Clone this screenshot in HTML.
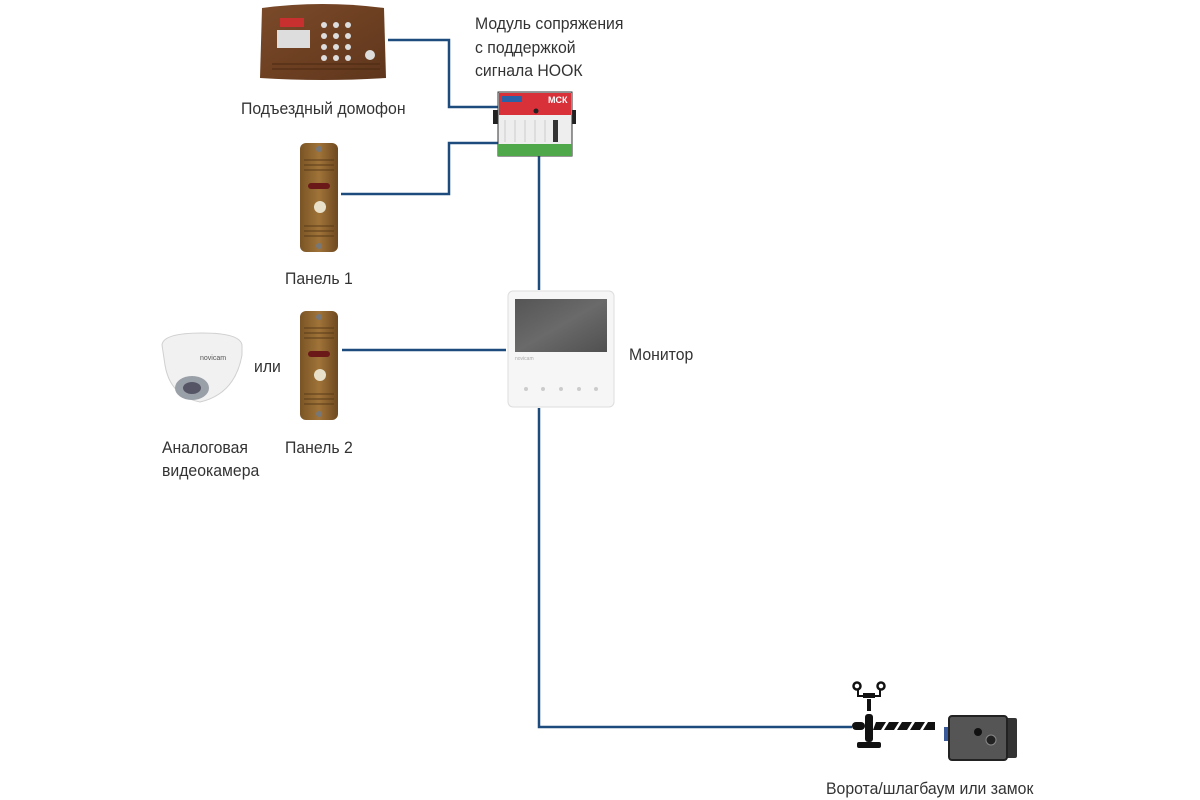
<!DOCTYPE html>
<html><head><meta charset="utf-8"><style>
html,body{margin:0;padding:0;background:#fff;width:1200px;height:800px;overflow:hidden}
svg{display:block}
text{font-family:"Liberation Sans",sans-serif;font-size:17px;fill:#333}
</style></head><body>
<svg width="1200" height="800" viewBox="0 0 1200 800">
<defs>
<linearGradient id="br" x1="0" y1="0" x2="1" y2="1"><stop offset="0" stop-color="#7a4a2a"/><stop offset="0.5" stop-color="#6e4022"/><stop offset="1" stop-color="#5e361c"/></linearGradient>
<linearGradient id="pn" x1="0" y1="0" x2="1" y2="0"><stop offset="0" stop-color="#7a5426"/><stop offset="0.5" stop-color="#a07438"/><stop offset="1" stop-color="#6e4820"/></linearGradient>
<linearGradient id="scr" x1="0" y1="0" x2="1" y2="1"><stop offset="0" stop-color="#555"/><stop offset="0.5" stop-color="#6a6a6a"/><stop offset="1" stop-color="#505050"/></linearGradient>
</defs>
<g fill="none" stroke="#1d4b7d" stroke-width="2.5">
<polyline points="388,40 449,40 449,107 500,107"/>
<polyline points="341,194 449,194 449,143 500,143"/>
<line x1="539" y1="156" x2="539" y2="290"/>
<line x1="342" y1="350" x2="506" y2="350"/>
<polyline points="539,408 539,727 852,727"/>
</g>
<path d="M262,8 Q322,0 384,8 L386,78 Q322,82 260,78 Z" fill="url(#br)"/>
<rect x="280" y="18" width="24" height="9" fill="#c83030"/>
<rect x="277" y="30" width="33" height="18" fill="#ddd"/>
<g fill="#ddd"><circle cx="324" cy="25" r="3"/><circle cx="336" cy="25" r="3"/><circle cx="348" cy="25" r="3"/><circle cx="324" cy="36" r="3"/><circle cx="336" cy="36" r="3"/><circle cx="348" cy="36" r="3"/><circle cx="324" cy="47" r="3"/><circle cx="336" cy="47" r="3"/><circle cx="348" cy="47" r="3"/><circle cx="324" cy="58" r="3"/><circle cx="336" cy="58" r="3"/><circle cx="348" cy="58" r="3"/><circle cx="370" cy="55" r="5"/></g>
<g stroke="#4a2810"><line x1="272" y1="64" x2="380" y2="64"/><line x1="272" y1="69" x2="380" y2="69"/></g>
<text x="241" y="114">Подъездный домофон</text>
<rect x="493" y="110" width="6" height="14" fill="#222"/><rect x="570" y="110" width="6" height="14" fill="#222"/>
<rect x="498" y="92" width="74" height="64" fill="#eee" stroke="#333"/>
<rect x="499" y="93" width="72" height="22" fill="#d8313a"/>
<rect x="502" y="96" width="20" height="6" fill="#2a62a8"/>
<text x="548" y="103" style="font-size:9px;fill:#fff;font-weight:bold">МСК</text>
<circle cx="536" cy="111" r="2.5" fill="#222"/>
<rect x="498" y="144" width="74" height="12" fill="#4fa84a"/>
<g stroke="#ccc"><line x1="505" y1="120" x2="505" y2="142"/><line x1="515" y1="120" x2="515" y2="142"/><line x1="525" y1="120" x2="525" y2="142"/><line x1="535" y1="120" x2="535" y2="142"/><line x1="545" y1="120" x2="545" y2="142"/><line x1="555" y1="120" x2="555" y2="142"/></g>
<rect x="553" y="120" width="5" height="22" fill="#333"/>
<text x="475" y="29">Модуль сопряжения</text>
<text x="475" y="53">с поддержкой</text>
<text x="475" y="76">сигнала НООК</text>
<g>
<rect x="300" y="143" width="38" height="109" rx="6" fill="url(#pn)"/>
<g stroke="#5a3a18"><line x1="304" y1="160" x2="334" y2="160"/><line x1="304" y1="165" x2="334" y2="165"/><line x1="304" y1="170" x2="334" y2="170"/><line x1="304" y1="226" x2="334" y2="226"/><line x1="304" y1="231" x2="334" y2="231"/><line x1="304" y1="236" x2="334" y2="236"/></g>
<rect x="308" y="183" width="22" height="6" rx="3" fill="#6a1818"/>
<circle cx="320" cy="207" r="6" fill="#e8e0c8"/>
<circle cx="319" cy="149" r="3" fill="#777"/><circle cx="319" cy="246" r="3" fill="#777"/>
</g>
<text x="285" y="284">Панель 1</text>
<g transform="translate(0,168)">
<rect x="300" y="143" width="38" height="109" rx="6" fill="url(#pn)"/>
<g stroke="#5a3a18"><line x1="304" y1="160" x2="334" y2="160"/><line x1="304" y1="165" x2="334" y2="165"/><line x1="304" y1="170" x2="334" y2="170"/><line x1="304" y1="226" x2="334" y2="226"/><line x1="304" y1="231" x2="334" y2="231"/><line x1="304" y1="236" x2="334" y2="236"/></g>
<rect x="308" y="183" width="22" height="6" rx="3" fill="#6a1818"/>
<circle cx="320" cy="207" r="6" fill="#e8e0c8"/>
<circle cx="319" cy="149" r="3" fill="#777"/><circle cx="319" cy="246" r="3" fill="#777"/>
</g>
<text x="285" y="453">Панель 2</text>
<path d="M162,345 Q163,333 202,333 Q240,333 242,345 L242,355 Q235,394 200,402 Q170,396 165,365 Z" fill="#f1f1f1" stroke="#d0d0d0"/>
<ellipse cx="192" cy="388" rx="17" ry="12" fill="#9aa0a8"/>
<ellipse cx="192" cy="388" rx="9" ry="6" fill="#556"/>
<text x="200" y="360" style="font-size:7px;fill:#555">novicam</text>
<text x="254" y="372">или</text>
<text x="162" y="453">Аналоговая</text>
<text x="162" y="476">видеокамера</text>
<rect x="508" y="291" width="106" height="116" rx="5" fill="#f6f6f6" stroke="#ddd"/>
<rect x="515" y="299" width="92" height="53" fill="url(#scr)"/>
<text x="515" y="360" style="font-size:5px;fill:#aaa">novicam</text>
<g fill="#ccc"><circle cx="526" cy="389" r="2"/><circle cx="543" cy="389" r="2"/><circle cx="561" cy="389" r="2"/><circle cx="579" cy="389" r="2"/><circle cx="596" cy="389" r="2"/></g>
<text x="629" y="360">Монитор</text>
<g fill="#111">
<circle cx="857" cy="686" r="3.5" fill="none" stroke="#111" stroke-width="2.5"/>
<circle cx="881" cy="686" r="3.5" fill="none" stroke="#111" stroke-width="2.5"/>
<path d="M857,690 L857,697 L863,697 L863,694 L875,694 L875,697 L881,697 L881,690 L879,690 L879,695 L859,695 L859,690 Z"/>
<rect x="863" y="693" width="12" height="5"/>
<rect x="867" y="699" width="4" height="12"/>
<rect x="865" y="714" width="8" height="28" rx="3"/>
<rect x="852" y="722" width="13" height="8" rx="4"/>
<rect x="857" y="742" width="24" height="6" rx="2"/>
<polygon points="876,722 886,722 881,730 873,730"/><polygon points="889,722 899,722 894,730 884,730"/><polygon points="902,722 912,722 907,730 897,730"/><polygon points="915,722 925,722 920,730 910,730"/><polygon points="928,722 935,722 935,730 923,730"/>
</g>
<rect x="944" y="727" width="6" height="14" fill="#3a5a9a"/>
<rect x="1005" y="718" width="12" height="40" rx="2" fill="#333"/>
<rect x="949" y="716" width="58" height="44" rx="3" fill="#555" stroke="#222" stroke-width="2"/>
<circle cx="978" cy="732" r="4" fill="#111"/><circle cx="991" cy="740" r="5" fill="#222" stroke="#888"/>
<text x="826" y="794">Ворота/шлагбаум или замок</text>
</svg>
<script>
document.querySelectorAll('text').forEach(t=>{if(t.style.fontSize)return;const x=t.getAttribute('x'),y=t.getAttribute('y');t.setAttribute('transform','translate('+x+','+y+') scale(0.93,1) translate('+(-x)+','+(-y)+')');});
</script>
</body></html>
